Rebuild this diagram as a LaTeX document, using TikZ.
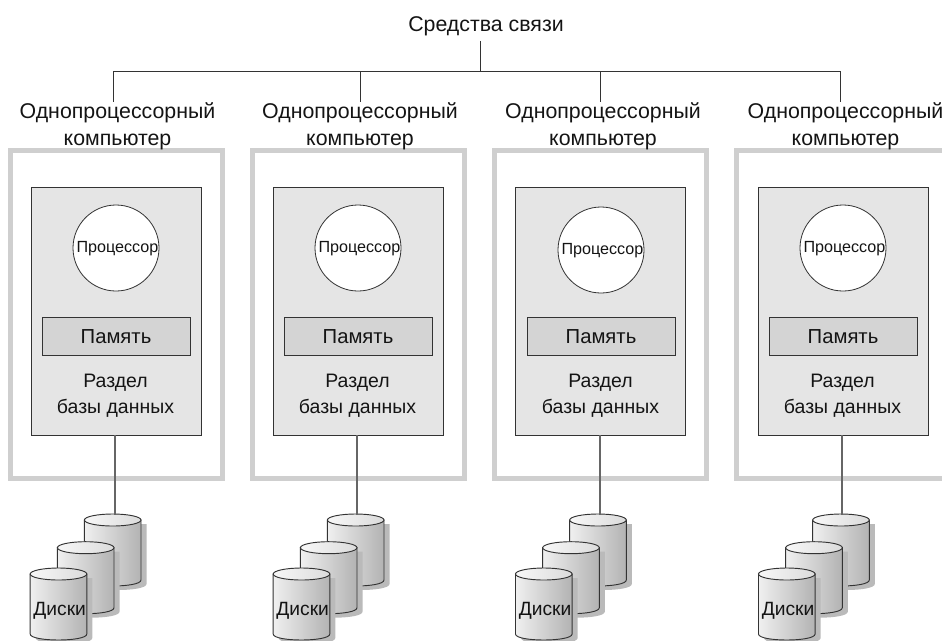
\documentclass[tikz,border=0pt]{standalone}
\usepackage{fontspec}
\setmainfont{Liberation Sans}
\definecolor{framegray}{gray}{0.81}
\definecolor{boxgray}{gray}{0.9}
\definecolor{memgray}{gray}{0.83}
\definecolor{linegray}{gray}{0.2}
\tikzset{
  lab/.style={inner sep=0pt,align=center,text=black!92},
  biglab/.style={lab,font=\fontsize{16}{20.5}\selectfont},
  memlabel/.style={lab,font=\fontsize{15.2}{20}\selectfont},
  midlab/.style={lab,font=\fontsize{14.6}{19.5}\selectfont},
  smalllab/.style={lab,font=\fontsize{12.1}{13}\selectfont},
  disklab/.style={lab,font=\fontsize{14.4}{15}\selectfont},
  outerframe/.style={draw=framegray,line width=3.5pt,inner sep=0pt,outer sep=0pt,anchor=north west,minimum width=159.2pt,minimum height=246pt},
  innerbox/.style={draw=linegray,fill=boxgray,line width=0.6pt,inner sep=0pt,outer sep=0pt,anchor=north west,minimum width=127.5pt,minimum height=186pt},
  membox/.style={draw=linegray,fill=memgray,line width=0.6pt,inner sep=0pt,outer sep=0pt,minimum width=111pt,minimum height=29pt},
  cpu/.style={circle,draw=linegray,fill=white,line width=0.6pt,inner sep=0pt,outer sep=0pt,minimum size=64.5pt},
  wire/.style={draw=linegray,line width=0.7pt},
  diskwire/.style={draw=black!60,line width=0.9pt},
  diskbody/.style={draw=linegray,line width=0.7pt,left color=black!6,right color=black!30},
  diskshadow/.style={fill=black!27},
  diskcap/.style={draw=linegray,line width=0.7pt,left color=black!3,right color=black!14},
}
% centre x, top y of one disk
\newcommand{\onedisk}[2]{%
  \fill[diskshadow] ({#1-28.3+5.5},{#2+6+4}) -- ({#1-28.3+5.5},{#2+66+4})
     .. controls ({#1-28.3+5.5},{#2+74+4}) and ({#1+28.3+5.5},{#2+74+4}) .. ({#1+28.3+5.5},{#2+66+4})
     -- ({#1+28.3+5.5},{#2+6+4}) -- cycle;
  \path[diskbody] ({#1-28.3},{#2+6}) -- ({#1-28.3},{#2+66})
     .. controls ({#1-28.3},{#2+74}) and ({#1+28.3},{#2+74}) .. ({#1+28.3},{#2+66})
     -- ({#1+28.3},{#2+6}) -- cycle;
  \path[diskcap] ({#1},{#2+6}) ellipse [x radius=28.3,y radius=6];
}
\begin{document}
\begin{tikzpicture}[x=0.75pt,y=-0.75pt]
\useasboundingbox (0,0) rectangle (942,640);
\clip (0,0) rectangle (942,640);
\node[biglab] (title) at (486,26) {Средства связи};
\coordinate (bus) at (480,71);
\draw[wire] (bus |- title.south) ++(0,5) -- (bus);
\draw[wire] (113,71) -- (840,71);
\foreach \i/\fx/\bx/\cx/\cy/\lx/\dropx/\wx/\dx/\hx in
 {1/10.5/31/116/248/117.5/113/115/112.7/116,
  2/252.5/273/358/248/360/360/357/355.7/358,
  3/494.5/515/601/250/603/600/600/598/601,
  4/736.5/758/843/248/845.5/840/842/841/843}{
  \coordinate (drop\i) at (\dropx,71);
  \node[outerframe] (frame\i) at (\fx,150.8) {};
  \node[biglab] (comp\i) at (\lx,126.5) {Однопроцессорный\\компьютер};
  \draw[wire] (drop\i) -- (\dropx,102);
  \node[innerbox] (box\i) at (\bx,187) {};
  \node[cpu] (cpu\i) at (\cx,\cy) {};
  \node[smalllab] (cpulab\i) at ({\cx+1.5},{\cy+0.5}) {Процессор};
  \node[membox] (mem\i) at (\hx,336.5) {};
  \node[memlabel] (memlab\i) at (\hx,336.5) {Память};
  \node[midlab] (part\i) at ({\hx-0.5},396) {Раздел\\базы данных};
  \coordinate (wt\i) at (\wx,514.5);
  \onedisk{\dx}{514}
  \onedisk{\dx-27}{541.7}
  \onedisk{\dx-54.2}{568}
  \node[disklab] (disklab\i) at ({\dx-53},611) {Диски};
  \draw[diskwire] (wt\i |- box\i.south) -- (wt\i);
}
\end{tikzpicture}
\end{document}
